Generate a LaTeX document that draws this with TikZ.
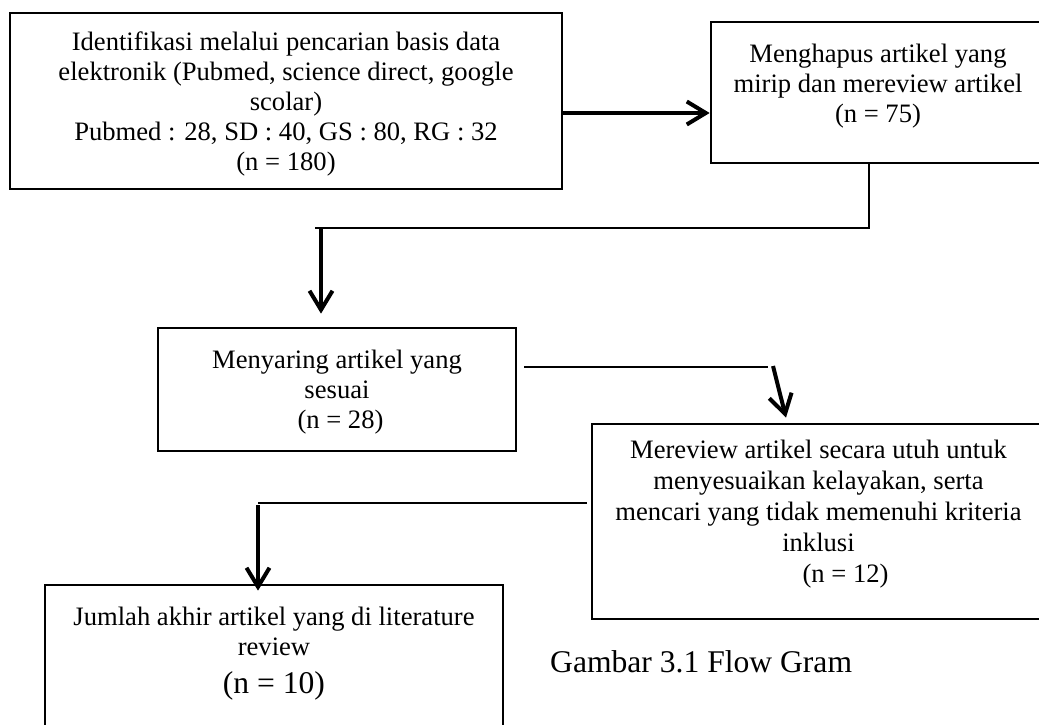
\documentclass[tikz,border=0pt]{standalone}
\usepackage{fontspec}
\setmainfont{Liberation Serif}
\usetikzlibrary{arrows.meta}
\newcommand\tp[1]{\rule{0pt}{#1}}
\newcommand\bt[1]{\rule[-#1]{0pt}{#1}}
\begin{document}
\begin{tikzpicture}[x=1pt,y=-1pt,
  box/.style={draw,line width=2.7pt,inner sep=0pt,align=center,
    font=\fontsize{26.6}{30}\selectfont},
  thin/.style={line width=2.3pt},
  arr/.style={line width=4pt,-{Straight Barb[length=19pt,width=23pt]}},
  captext/.style={font=\fontsize{31.6}{36}\selectfont,anchor=base west,inner sep=0pt}]
\useasboundingbox (0,0) rectangle (1039,725);
\fill[white] (0,0) rectangle (1039,725);
\clip (0,0) rectangle (1039,725);

\node[box,minimum width=552pt,minimum height=176pt] (b1) at (286,101)
  {\tp{24pt}Identifikasi melalui pencarian basis data\\
   elektronik (Pubmed, science direct, google\\
   scolar)\\
   Pubmed : 28, SD : 40, GS : 80, RG : 32\\
   (n = 180)\bt{6pt}};

\node[box,minimum width=334pt,minimum height=141pt] (b2) at (878,92.5)
  {\tp{20pt}Menghapus artikel yang\\
   mirip dan mereview artikel\\
   (n = 75)\bt{21pt}};

\node[box,minimum width=358pt,minimum height=123pt] (b3) at (337,389.5)
  {\tp{23pt}Menyaring artikel yang\\
   sesuai\\
   \hspace*{7pt}(n = 28)\bt{6pt}};

\node[box,minimum width=453pt,minimum height=195pt,
  font=\fontsize{26.6}{31}\selectfont] (b4) at (818.5,521.5)
  {\tp{20pt}Mereview artikel secara utuh untuk\\
   menyesuaikan kelayakan, serta\\
   mencari yang tidak memenuhi kriteria\\
   inklusi\\
   \hspace*{54pt}(n = 12)\bt{23pt}};

\node[box,minimum width=458pt,minimum height=180pt] (b5) at (274,675)
  {\tp{20pt}Jumlah akhir artikel yang di literature\\
   review\\[8pt]
   {\fontsize{31.6}{30}\selectfont (n = 10)}\bt{52pt}};

\node[captext] (caption) at (550,672) {Gambar 3.1 Flow Gram};

\coordinate (j1) at (869,228);
\coordinate (j2) at (315,228);
\coordinate (j3) at (321,228);
\coordinate (k1) at (768,367);
\coordinate (k2) at (773,366);
\coordinate (m1) at (258,503);
\coordinate (m2) at (258,505);

% box1 -> box2
\draw[arr] ([yshift=-12pt]b1.east) -- ([yshift=-20.5pt]b2.west);
% box2 -> box3
\draw[thin] (j1 |- b2.south) -- (j1) -- (j2);
\draw[arr,shorten >=13pt] (j3) -- (j3 |- b3.north);
% box3 -> box4
\draw[thin] ([xshift=7pt,yshift=22.5pt]b3.east) -- (k1);
\draw[arr] (k2) -- ([xshift=-32.5pt,yshift=5pt]b4.north);
% box4 -> box5
\draw[thin] ([xshift=-4pt,yshift=18.5pt]b4.west) -- (m1);
\draw[arr,shorten >=-7pt] (m2) -- (m2 |- b5.north);
\end{tikzpicture}
\end{document}
